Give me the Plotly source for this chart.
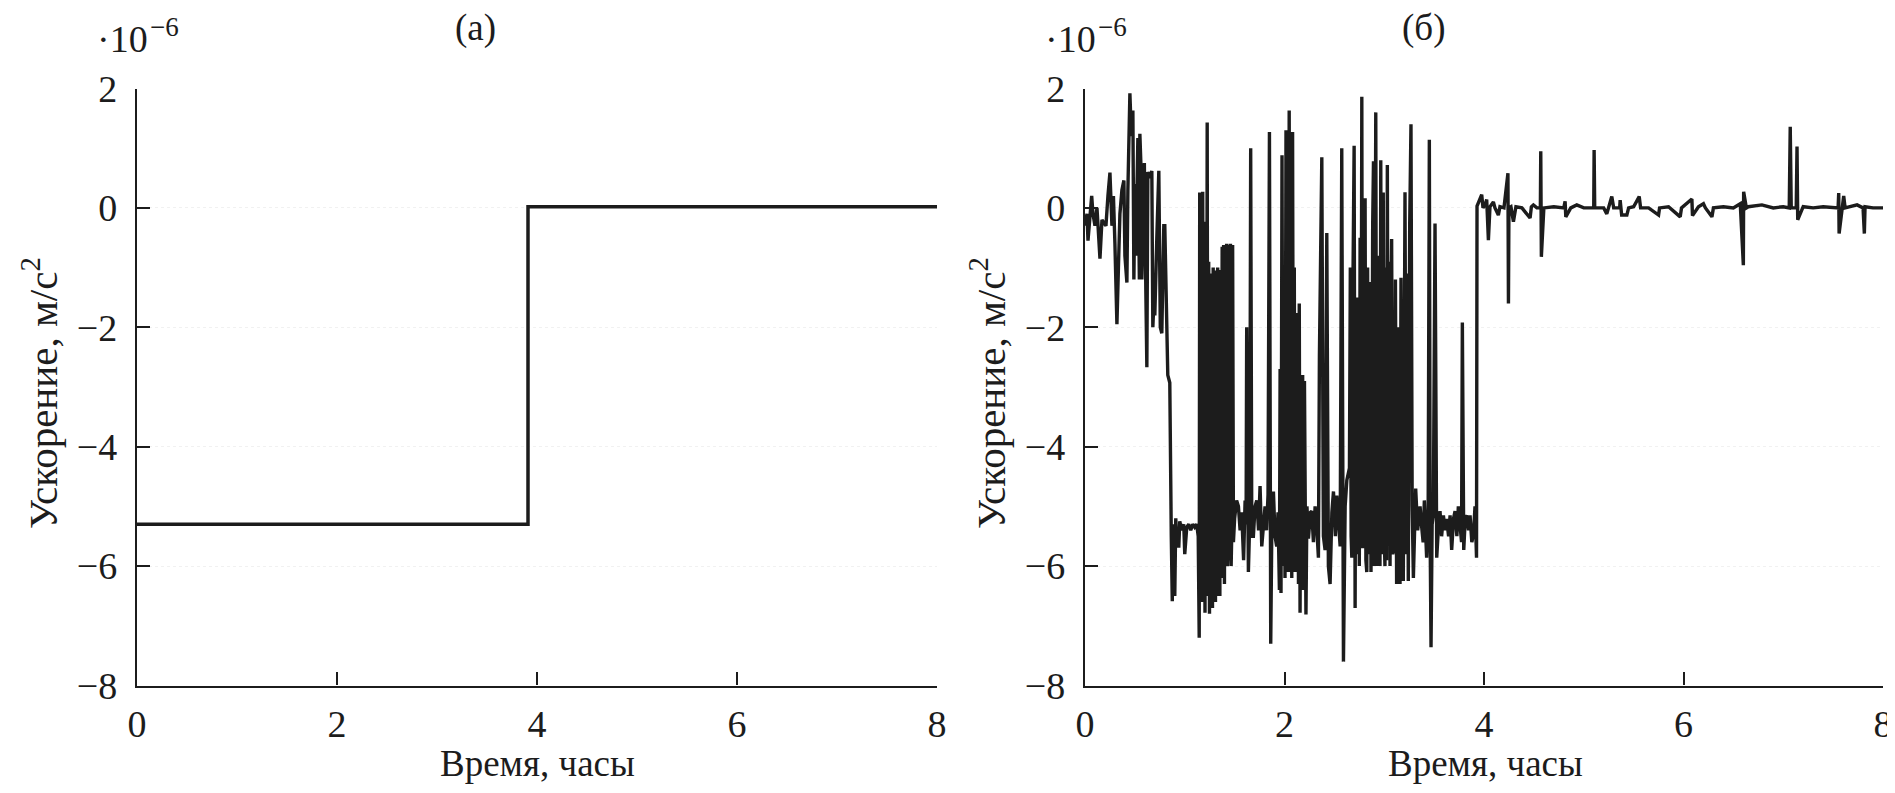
import plotly.graph_objects as go

# page is 1895x793; the html body keeps an 8 px margin, so the figure is drawn inside it
PAGE_W, PAGE_H = 1895, 793
OFF = 8
W, H = PAGE_W - OFF, PAGE_H - 2 * OFF

# ---------------- data ----------------
# panel (a): step in acceleration (units of 1e-6 m/s^2)
time_a = [0.0, 3.91, 3.91, 8.0]
accel_a = [-5.3, -5.3, 0.02, 0.02]

seg1 = [(0.00,-0.3),(0.02,-0.1),(0.03,-0.55),(0.05,-0.2),(0.067,0.2),(0.08,-0.1),(0.10,-0.3),(0.12,0.0),
        (0.15,-0.85),(0.17,-0.2),(0.19,-0.25),(0.21,-0.3),(0.23,0.2),(0.25,0.59),(0.27,-0.3),(0.285,0.2),
        (0.30,-0.6),(0.32,-1.95),(0.335,-1.0),(0.35,-0.1),(0.37,0.3),(0.39,0.46),(0.40,-0.8),(0.42,-1.25),
        (0.43,0.3),(0.45,1.92),(0.465,1.2),(0.48,1.63),(0.49,-1.2),(0.50,0.4),(0.51,-0.8),(0.53,1.17),
        (0.545,-1.2),(0.55,1.24),(0.565,0.5),(0.57,-1.2),(0.58,-0.4),(0.595,0.75),(0.61,-1.4),(0.62,-2.67),
        (0.63,0.6),(0.65,0.5),(0.67,0.62),(0.68,-2.0),(0.69,-1.6),(0.70,-1.8),(0.72,-0.5),(0.74,0.62),
        (0.755,-2.0),(0.77,-2.1),(0.79,-0.3),(0.80,-0.3),(0.83,-2.8),(0.85,-2.93)]
seg2 = [(0.865,-5.5),(0.875,-6.59),(0.885,-5.3),(0.90,-6.5),(0.91,-5.2),(0.92,-5.6),(0.93,-5.35),(0.94,-5.69),
        (0.95,-5.25),(0.97,-5.4),(0.99,-5.3),(1.00,-5.8),(1.02,-5.35),(1.04,-5.3),(1.06,-5.4),(1.08,-5.3),
        (1.10,-5.35),(1.12,-5.3),(1.135,-5.5)]
seg3 = [(1.145,-7.2),(1.15,0.26),(1.158,-6.4),(1.165,-0.1),(1.172,-6.6),(1.18,0.27),(1.188,-6.4),(1.195,-0.23),
        (1.203,-6.78),(1.21,-1.0),(1.218,-6.2),(1.225,1.43),(1.232,-6.5),(1.24,-0.9),(1.248,-6.8),(1.255,-1.1),
        (1.262,-6.5),(1.27,-1.1),(1.278,-6.7),(1.285,-1.0),(1.292,-6.4),(1.30,-1.1),(1.308,-6.6),(1.315,-1.05),
        (1.322,-6.5),(1.33,-1.0),(1.338,-6.3),(1.345,-1.1),(1.352,-6.5),(1.36,-1.04),(1.368,-6.2),(1.375,-0.65),
        (1.382,-6.0),(1.39,-0.62),(1.398,-6.3),(1.405,-1.2),(1.412,-5.9),(1.42,-0.6),(1.428,-6.0),(1.435,-5.7),
        (1.442,-0.62),(1.45,-5.9),(1.458,-0.6),(1.465,-6.0),(1.472,-5.4),(1.48,-0.62),(1.488,-5.6)]
seg4 = [(1.50,-5.2),(1.52,-4.9),(1.538,-5.0),(1.555,-5.4),(1.571,-5.1),(1.59,-5.9),(1.605,-4.9),(1.615,-5.3),
        (1.621,-2.0),(1.63,-5.0),(1.638,-6.1),(1.652,-5.2),(1.661,1.0),(1.672,-5.5),(1.688,-5.5),(1.705,-5.0),
        (1.722,-4.9),(1.74,-5.4),(1.755,-4.66),(1.772,-5.67),(1.79,-5.2),(1.805,-5.0),(1.82,-5.4),(1.835,-4.8),
        (1.849,1.27),(1.862,-7.3),(1.875,-5.0),(1.889,-4.75),(1.905,-5.5),(1.922,-5.67),(1.935,-5.1),(1.949,-6.4)]
seg5 = [(1.956,-2.7),(1.965,-6.45),(1.975,0.88),(1.985,-6.0),(1.995,-1.5),(2.005,-6.2),(2.015,1.3),(2.023,-5.8),
        (2.031,-1.2),(2.039,-6.1),(2.047,1.63),(2.056,-5.9),(2.064,-0.5),(2.073,-6.2),(2.081,1.27),(2.09,-6.0),
        (2.098,-1.0),(2.106,-6.1),(2.115,-1.76),(2.123,-5.2),(2.131,-1.8),(2.14,-6.3),(2.148,-1.6),(2.156,-6.78),
        (2.165,-2.8),(2.173,-5.9),(2.182,-2.8),(2.19,-6.4),(2.20,-2.9),(2.207,-4.7),(2.215,-6.81),(2.225,-5.0),
        (2.24,-5.54)]
seg6 = [(2.26,-5.1),(2.273,-5.08),(2.29,-5.6),(2.307,-5.0),(2.325,-5.4),(2.34,-5.86),(2.35,-2.48),(2.374,0.85),
        (2.39,-5.5),(2.407,-5.73),(2.424,-0.42),(2.44,-6.0),(2.457,-6.3),(2.475,-5.1),(2.491,-4.75),(2.51,-5.5),
        (2.524,-4.82),(2.54,-5.3),(2.558,-5.67),(2.574,1.0),(2.591,-7.6),(2.608,-5.0),(2.625,-4.56)]
seg7 = [(2.651,-4.36),(2.66,-1.0),(2.668,-5.5),(2.675,-5.86),(2.685,-1.5),(2.698,1.04),(2.708,-6.7),(2.716,-2.0),
        (2.725,-5.8),(2.733,-1.5),(2.742,-2.15),(2.75,-6.0),(2.758,-0.5),(2.766,-5.6),(2.775,1.86),(2.783,-5.7),
        (2.792,-5.54),(2.80,-0.5),(2.808,0.16),(2.816,-5.9),(2.825,-6.1),(2.833,-1.0),(2.842,-5.8),(2.85,-1.5),
        (2.859,-1.24),(2.867,-6.1),(2.875,-4.76),(2.884,-0.3),(2.892,0.78),(2.90,-6.0),(2.908,-1.3),(2.915,1.6),
        (2.925,-6.0),(2.933,-0.8),(2.942,-6.0),(2.95,-3.9),(2.957,-6.0),(2.965,0.8),(2.975,-5.8),(2.99,0.26),
        (3.00,-5.5),(3.007,-6.0),(3.015,-1.0),(3.023,-5.9),(3.031,0.72),(3.04,-5.6),(3.05,-0.9),(3.058,-6.0),
        (3.066,-2.0),(3.074,-0.52),(3.085,-5.8),(3.101,-5.67),(3.112,-1.2),(3.124,-6.3),(3.133,-2.0),(3.141,-3.65),
        (3.15,-5.9),(3.158,-6.3),(3.168,-1.17),(3.18,-5.5),(3.191,-6.25),(3.20,-1.0),(3.208,0.26),(3.22,-5.8),
        (3.23,-1.1),(3.241,-6.25),(3.255,-0.3),(3.268,1.4),(3.28,-5.0),(3.292,-6.2)]
seg8 = [(3.315,-4.7),(3.335,-5.4),(3.359,-5.0),(3.375,-5.34),(3.39,-5.6),(3.402,-4.9),(3.425,-5.86),(3.44,-5.2),
        (3.452,1.14),(3.46,-5.5),(3.469,-7.36),(3.48,-5.3),(3.492,-5.15),(3.509,-0.26),(3.526,-5.86),(3.545,-5.3),
        (3.559,-5.08),(3.575,-5.5),(3.593,-5.15),(3.61,-5.4),(3.626,-5.21),(3.645,-5.5),(3.66,-5.15),(3.676,-5.73),
        (3.695,-5.2),(3.71,-5.08),(3.728,-5.5),(3.743,-5.0),(3.76,-5.3),(3.775,-5.6),(3.783,-1.92),(3.797,-5.73),
        (3.812,-5.2),(3.827,-5.15),(3.845,-5.4),(3.86,-5.15),(3.878,-5.6),(3.894,-5.47),(3.91,-5.0),(3.925,-5.86)]
seg9 = [(3.93,0.03),(3.945,0.1),(3.977,0.22),(3.99,0.0),(4.01,0.05),(4.027,0.14),(4.044,-0.54),(4.06,0.02),
        (4.094,0.1),(4.11,0.0),(4.144,-0.12),(4.16,0.02),(4.20,0.0),(4.24,0.58),(4.245,-1.6),(4.25,0.0),
        (4.27,0.02),(4.295,-0.23),(4.32,0.02),(4.38,0.0),(4.462,-0.17),(4.475,0.02),(4.495,0.05),(4.53,0.0),
        (4.565,0.0),(4.569,0.95),(4.575,-0.82),(4.60,0.0),(4.70,0.02),(4.80,0.0),(4.813,0.11),(4.82,-0.15),
        (4.87,0.0),(4.93,0.05),(5.00,0.0),(5.10,0.0),(5.104,0.97),(5.11,0.0),(5.20,0.0),(5.231,-0.1),
        (5.25,0.02),(5.281,0.19),(5.30,0.0),(5.36,0.0),(5.365,0.13),(5.38,-0.12),(5.432,-0.12),(5.45,0.0),
        (5.50,0.02),(5.556,0.19),(5.57,0.0),(5.65,0.0),(5.75,-0.12),(5.76,0.0),(5.85,0.02),(5.967,-0.15),
        (5.98,0.0),(6.084,0.15),(6.09,-0.13),(6.15,0.02),(6.20,0.07),(6.22,0.0),(6.285,-0.15),(6.30,0.0),
        (6.40,0.02),(6.50,0.0),(6.569,0.07),(6.60,-0.96),(6.603,0.27),(6.63,0.0),(6.65,0.02),(6.786,0.05),
        (6.90,0.0),(7.00,0.02),(7.06,0.0),(7.07,1.36),(7.08,0.0),(7.13,0.0),(7.138,1.03),(7.145,-0.2),
        (7.20,0.02),(7.30,0.0),(7.40,0.02),(7.50,0.0),(7.55,0.0),(7.556,0.25),(7.56,-0.43),(7.606,0.2),
        (7.62,0.0),(7.74,0.05),(7.80,0.0),(7.813,-0.43),(7.82,0.02),(7.90,0.0),(8.00,0.0)]

segments_b = [seg1, seg2, seg3, seg4, seg5, seg6, seg7, seg8, seg9]
time_b = [p[0] for s in segments_b for p in s]
accel_b = [p[1] for s in segments_b for p in s]

x_ticks = [0, 2, 4, 6, 8]
y_ticks = [-8, -6, -4, -2, 0, 2]

# ---------------- layout helpers (page pixels -> figure paper fractions) ----------------
def px(x):
    return (x - OFF) / W

def py(y):
    return 1 - (y - OFF) / H

FONT = "Liberation Serif, Times New Roman, serif"
INK = "#1c1c1c"

ax_left_a, ax_right_a = 137, 937
ax_left_b, ax_right_b = 1085, 1883
ax_top, ax_bot = 88.5, 685.5

fig = go.Figure()
fig.add_trace(go.Scatter(x=time_a, y=accel_a, mode="lines",
                         line=dict(color=INK, width=3.5), xaxis="x", yaxis="y",
                         showlegend=False, hoverinfo="skip"))
fig.add_trace(go.Scatter(x=time_b, y=accel_b, mode="lines",
                         line=dict(color=INK, width=3.4), xaxis="x2", yaxis="y2",
                         showlegend=False, hoverinfo="skip"))

common_x = dict(range=[0, 8], tickvals=x_ticks, ticks="inside", ticklen=13, tickwidth=2,
                tickcolor=INK, showline=True, linecolor=INK, linewidth=2.2, showgrid=False,
                zeroline=False, tickfont=dict(family=FONT, size=38, color=INK),
                ticklabelstandoff=4, automargin=False, fixedrange=True)
common_y = dict(range=[-8, 2], tickvals=y_ticks, ticks="inside", ticklen=13, tickwidth=2,
                tickcolor=INK, showline=True, linecolor=INK, linewidth=2.2, showgrid=True,
                gridcolor="#f1f1f1", gridwidth=1, griddash="dot",
                zeroline=False, tickfont=dict(family=FONT, size=38, color=INK),
                ticklabelstandoff=10, automargin=False, fixedrange=True)

fig.update_layout(
    template="none",
    width=W, height=H,
    margin=dict(l=0, r=0, t=0, b=0, autoexpand=False),
    paper_bgcolor="white", plot_bgcolor="white",
    xaxis=dict(domain=[px(ax_left_a), px(ax_right_a)], anchor="y", **common_x),
    yaxis=dict(domain=[py(ax_bot), py(ax_top)], anchor="x", **common_y),
    xaxis2=dict(domain=[px(ax_left_b), px(ax_right_b)], anchor="y2", **common_x),
    yaxis2=dict(domain=[py(ax_bot), py(ax_top)], anchor="x2", **common_y),
    showlegend=False,
)

ann = []
for left, panel_label in [(ax_left_a, "(а)"), (ax_left_b, "(б)")]:
    right = left + 800
    # multiplier
    ann.append(dict(text="·10", x=px(left + 13), y=py(39), xref="paper", yref="paper",
                    xanchor="right", yanchor="middle", showarrow=False,
                    font=dict(family=FONT, size=38, color=INK)))
    ann.append(dict(text="−6", x=px(left + 11), y=py(27), xref="paper", yref="paper",
                    xanchor="left", yanchor="middle", showarrow=False,
                    font=dict(family=FONT, size=27, color=INK)))
    # panel label
    ann.append(dict(text=panel_label, x=px(left + 338), y=py(28), xref="paper", yref="paper",
                    xanchor="center", yanchor="middle", showarrow=False,
                    font=dict(family=FONT, size=37, color=INK)))
    # y title
    ann.append(dict(text="Ускорение, м/с<sup>2</sup>", x=px(left - 97), y=py((ax_top + ax_bot) / 2 + 6),
                    xref="paper", yref="paper", xanchor="center", yanchor="middle",
                    textangle=-90, showarrow=False,
                    font=dict(family=FONT, size=41, color=INK)))
    # x title
    ann.append(dict(text="Время, часы", x=px((left + right) / 2), y=py(763),
                    xref="paper", yref="paper", xanchor="center", yanchor="middle",
                    showarrow=False, font=dict(family=FONT, size=37, color=INK)))
fig.update_layout(annotations=ann)

fig.write_html("out.html")
